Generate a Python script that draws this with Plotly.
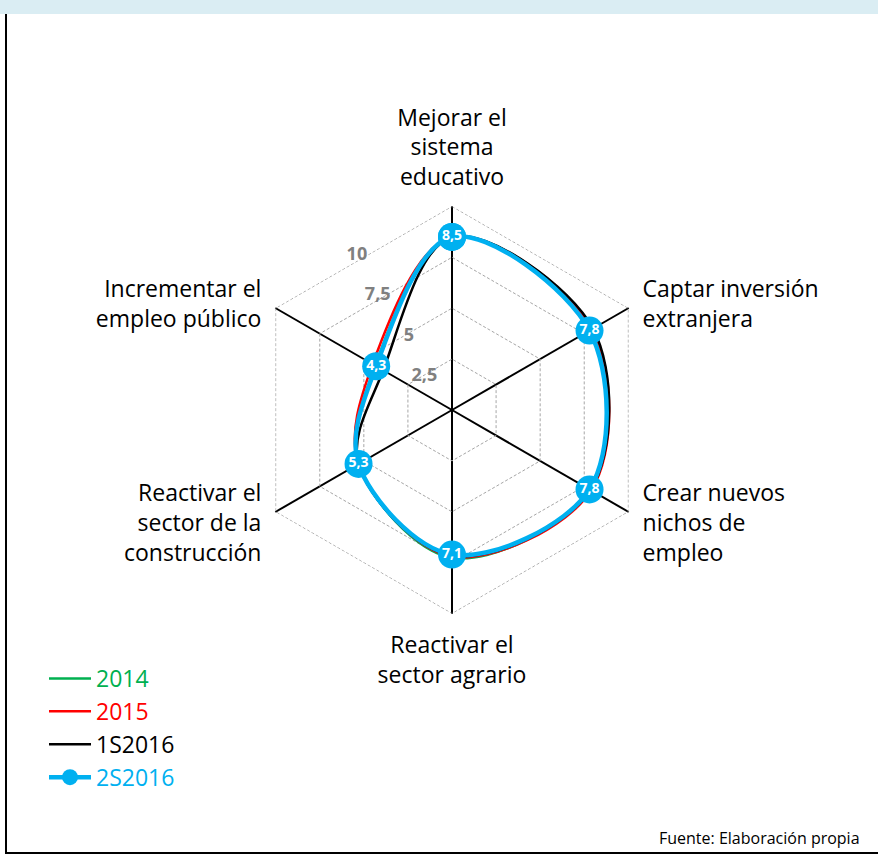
import plotly.graph_objects as go

categories = ["Mejorar el<br>sistema<br>educativo",
              "Captar inversión<br>extranjera",
              "Crear nuevos<br>nichos de<br>empleo",
              "Reactivar el<br>sector agrario",
              "Reactivar el<br>sector de la<br>construcción",
              "Incrementar el<br>empleo público"]

v2014 = [8.5, 7.9, 7.8, 7.25, 5.3, 4.35]
v2015 = [8.5, 7.95, 7.9, 7.2, 5.3, 4.5]
v1s2016 = [8.5, 8.0, 7.85, 7.15, 5.3, 3.9]
v2s2016 = [8.5, 7.8, 7.8, 7.1, 5.3, 4.3]

series_names = ["2014", "2015", "1S2016", "2S2016"]
series_colors = ["#00b050", "#ff0000", "#000000", "#00b0f0"]
radial_ticks = [2.5, 5, 7.5, 10]
RMAX = 10.02

FONT = "Open Sans"
NB = "\u00a0"

# label text with blank lines so side labels sit centred on their spoke ends
pad_before = [0, 2, 0, 0, 0, 2]
pad_after = [0, 0, 3, 0, 3, 0]
ticktext = [(NB + "<br>") * b + c + ("<br>" + NB) * a
            for c, b, a in zip(categories, pad_before, pad_after)]

def closed(a):
    return list(a) + [a[0]]

fig = go.Figure()
# outer hexagon (value 10 gridline)
fig.add_trace(go.Scatterpolar(
    r=closed([radial_ticks[-1]] * len(categories)), theta=closed(categories),
    mode="lines", line=dict(color="#a6a6a6", width=1, dash="3px,2px"),
    showlegend=False, hoverinfo="skip"))
for name, vals, col in zip(series_names[:3], [v2014, v2015, v1s2016], series_colors[:3]):
    fig.add_trace(go.Scatterpolar(
        r=closed(vals), theta=closed(categories), mode="lines",
        line=dict(color=col, width=2.5, shape="spline", smoothing=1.0),
        name=f'<span style="color:{col}">{name}</span>'))

fig.add_trace(go.Scatterpolar(
    r=closed(v2s2016), theta=closed(categories), mode="lines+markers",
    line=dict(color=series_colors[3], width=4.5, shape="spline", smoothing=1.0),
    marker=dict(color=series_colors[3], size=28),
    name=f'<span style="color:{series_colors[3]}">{series_names[3]}</span>'))
fig.add_trace(go.Scatterpolar(
    r=v2s2016, theta=categories, mode="text",
    texttemplate="%{r:.1f}", textposition="middle center",
    textfont=dict(color="white", size=14, family=FONT, weight="bold"),
    showlegend=False, hoverinfo="skip"))
# helper subplot carrying the value-axis labels (placed on the hexagon edges)
fig.add_trace(go.Scatterpolar(r=[], theta=[], subplot="polar2", showlegend=False,
                              hoverinfo="skip"))

cx0, cx1 = 248 / 878, 656 / 878
cy0, cy1 = (857 - 614) / 857, (857 - 206) / 857
dom = dict(x=[cx0, cx1], y=[cy0, cy1])
dom2 = dict(x=[cx0 + 20 / 878, cx1 + 20 / 878], y=[cy0 + 4 / 857, cy1 + 4 / 857])

fig.update_layout(
    width=878, height=857,
    margin=dict(l=0, r=0, t=0, b=0),
    paper_bgcolor="white", plot_bgcolor="white",
    separators=",.",
    font=dict(family=FONT, color="black"),
    polar=dict(
        domain=dom,
        gridshape="linear",
        bgcolor="white",
        radialaxis=dict(range=[0, RMAX], tickvals=radial_ticks, showticklabels=False,
                        showline=False, ticks="", showgrid=True,
                        gridcolor="#a6a6a6", griddash="3px,2px", gridwidth=1),
        angularaxis=dict(rotation=90, direction="clockwise", showline=False,
                         gridcolor="black", gridwidth=2,
                         tickmode="array", tickvals=categories, ticktext=ticktext,
                         ticks="outside", ticklen=11, tickcolor="rgba(0,0,0,0)",
                         tickfont=dict(size=23, family=FONT, color="black")),
    ),
    polar2=dict(
        domain=dom2,
        bgcolor="rgba(0,0,0,0)",
        radialaxis=dict(range=[0, RMAX / 0.8660254 / 1.06], tickvals=radial_ticks, angle=120,
                        side="counterclockwise", tickangle=120,
                        showline=False, ticks="", showgrid=False,
                        tickfont=dict(color="#808080", size=18, family=FONT, weight="bold")),
        angularaxis=dict(visible=False, showgrid=False, showline=False),
    ),
    legend=dict(x=44 / 878, y=1 - 657 / 857, xanchor="left", yanchor="top",
                font=dict(size=23, family=FONT), itemwidth=42,
                bgcolor="rgba(0,0,0,0)"),
    shapes=[
        dict(type="rect", xref="paper", yref="paper", x0=0, x1=1, y0=1 - 14 / 857, y1=1,
             fillcolor="#daedf3", line=dict(width=0), layer="below"),
        dict(type="line", xref="paper", yref="paper", x0=6 / 878, x1=6 / 878,
             y0=4 / 857, y1=1 - 14 / 857, line=dict(color="black", width=2)),
        dict(type="line", xref="paper", yref="paper", x0=5 / 878, x1=1,
             y0=4 / 857, y1=4 / 857, line=dict(color="black", width=2)),
    ],
    annotations=[dict(text="Fuente: Elaboración propia", xref="paper", yref="paper",
                      x=862 / 878, y=1 - 838 / 857, xanchor="right", yanchor="middle",
                      showarrow=False, font=dict(size=16, family=FONT, color="black"))],
)

fig.write_html("out.html", config={"displayModeBar": False},
               post_script="document.body.style.margin='0';")
